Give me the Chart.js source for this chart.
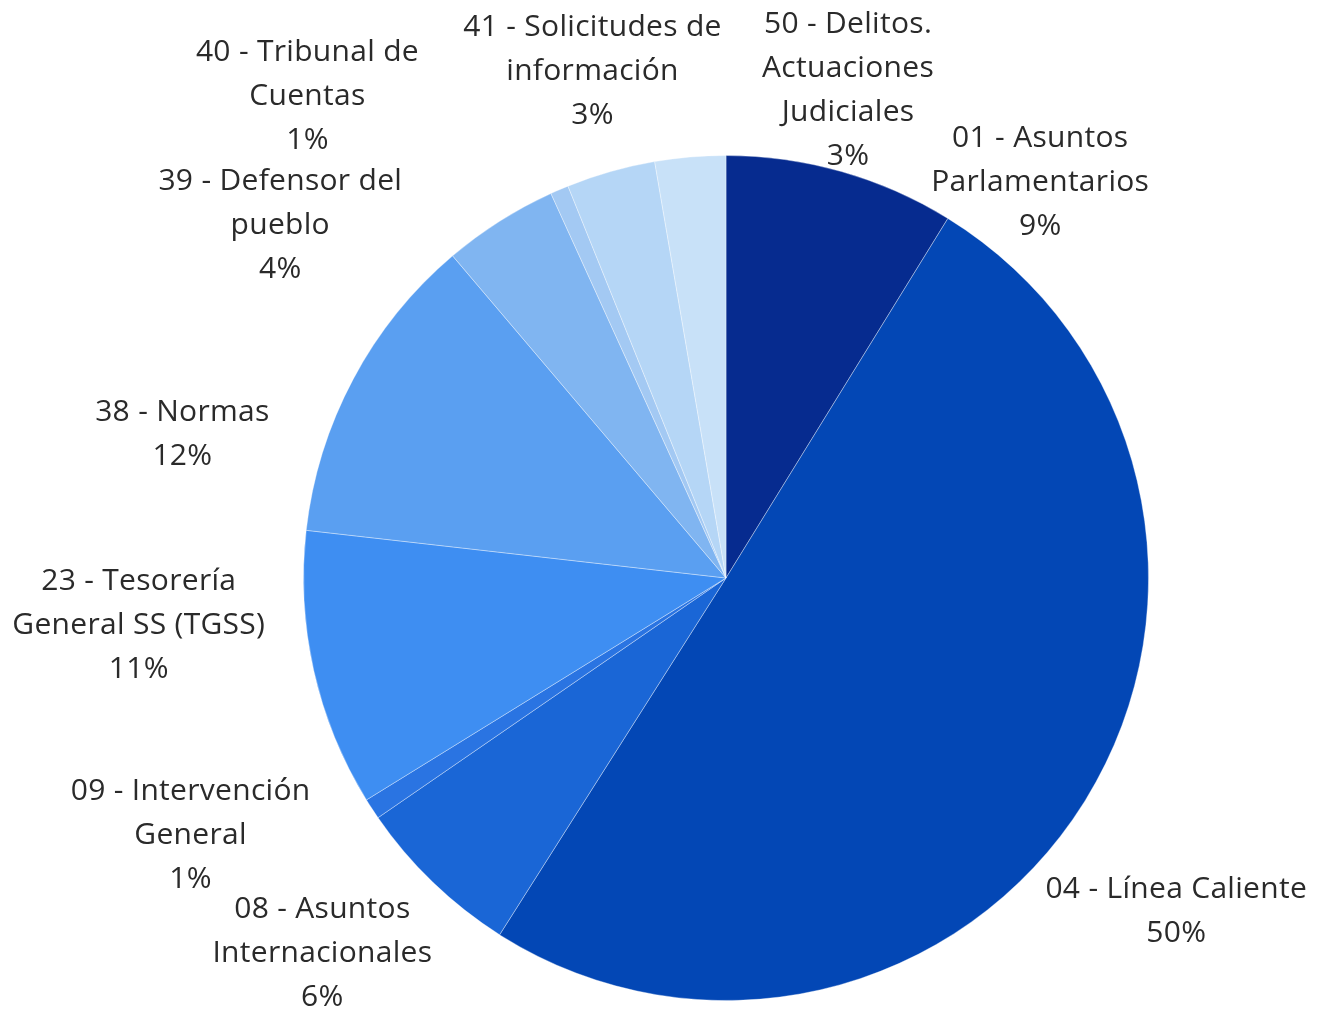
<!DOCTYPE html>
<html>
<head>
<meta charset="utf-8">
<script src="https://cdn.jsdelivr.net/npm/chart.js@4"></script>
<style>
  html, body { margin: 0; padding: 0; background: #fff; }
  #wrap { width: 1326px; height: 1011px; position: relative; }
</style>
</head>
<body>
<div id="wrap"><canvas id="pieChart"></canvas></div>
<script>
// categorias y porcentajes
const labelLines = [
  ["01 - Asuntos", "Parlamentarios"],
  ["04 - Línea Caliente"],
  ["08 - Asuntos", "Internacionales"],
  ["09 - Intervención", "General"],
  ["23 - Tesorería", "General SS (TGSS)"],
  ["38 - Normas"],
  ["39 - Defensor del", "pueblo"],
  ["40 - Tribunal de", "Cuentas"],
  ["41 - Solicitudes de", "información"],
  ["50 - Delitos.", "Actuaciones", "Judiciales"]
];
const values = [8.8, 50.2, 6.4, 0.8, 10.6, 12.0, 4.4, 0.7, 3.4, 2.7];
const colors = ["#062b8f", "#0347b5", "#1a66d6", "#2a74e2", "#3e8ef2",
                "#5a9ff1", "#80b5f1", "#a3c9f3", "#b5d6f6", "#c8e1f8"];

// donde va cada etiqueta: angulo (grados desde arriba) y distancia relativa al radio
const labelPlace = [
  [38.3, 1.20], [126.4, 1.324], [227.2, 1.302], [244.5, 1.404], [265.6, 1.394],
  [285.0, 1.332], [308.5, 1.348], [319.1, 1.513], [345.3, 1.245], [14.0, 1.194]
];

const outsideLabels = {
  id: "outsideLabels",
  afterDatasetsDraw(chart) {
    const ctx = chart.ctx;
    const meta = chart.getDatasetMeta(0);
    const data = chart.data.datasets[0].data;
    const total = data.reduce((a, b) => a + b, 0);
    ctx.save();
    ctx.font = "30px 'Open Sans'";
    ctx.letterSpacing = "0.3px";
    ctx.fillStyle = "#2a2a2a";
    ctx.textAlign = "center";
    ctx.textBaseline = "middle";
    meta.data.forEach((arc, i) => {
      const [deg, k] = labelPlace[i];
      const a = (deg - 90) * Math.PI / 180;
      const cx = arc.x + Math.cos(a) * arc.outerRadius * k;
      const cy = arc.y + Math.sin(a) * arc.outerRadius * k + 2;
      const lines = labelLines[i].concat([Math.round(data[i] / total * 100) + "%"]);
      const lh = 44;
      const y0 = cy - (lines.length - 1) * lh / 2;
      lines.forEach((t, j) => ctx.fillText(t, cx, y0 + j * lh));
    });
    ctx.restore();
  }
};

function setup() {
  const ctx = document.getElementById("pieChart").getContext("2d");
  new Chart(ctx, {
    type: "pie",
    data: {
      labels: labelLines.map(l => l.join(" ")),
      datasets: [{
        data: values,
        backgroundColor: colors,
        borderColor: "rgba(255,255,255,0.35)",
        borderWidth: 1,
        hoverOffset: 0
      }]
    },
    options: {
      responsive: true,
      maintainAspectRatio: false,
      animation: false,
      layout: { padding: { left: 303, right: 177, top: 155, bottom: 10 } },
      plugins: { legend: { display: false }, tooltip: { enabled: false } }
    },
    plugins: [outsideLabels]
  });
}

window.onload = setup;
</script>
</body>
</html>
